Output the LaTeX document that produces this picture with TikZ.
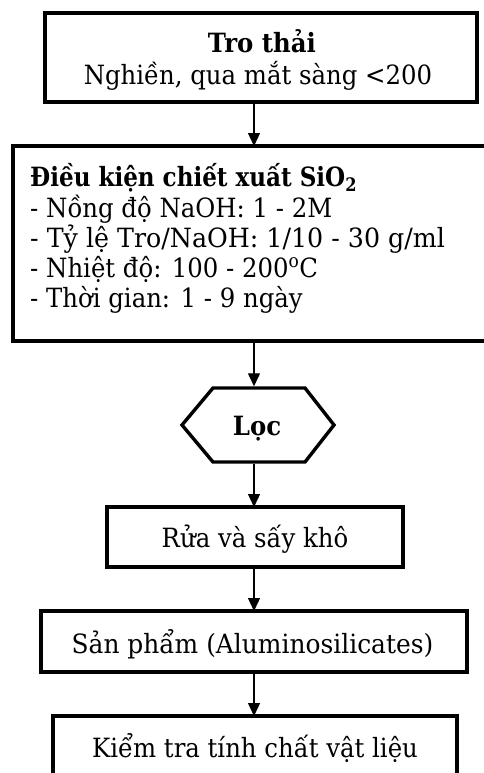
\documentclass[tikz,border=0pt]{standalone}
\usepackage{fontspec}
\setmainfont{DejaVu Serif}[FakeStretch=0.92]
\usetikzlibrary{arrows.meta}
\begin{document}
\begin{tikzpicture}[x=1pt,y=-1pt,
  box/.style={draw, line width=3.4pt, inner sep=0pt, outer sep=0pt},
  arr/.style={-{Triangle[length=13pt,width=12pt]}, line width=1.3pt},
  txt/.style={font=\fontsize{26.5}{32}\selectfont, inner sep=0pt, anchor=base},
  ltxt/.style={txt, anchor=base west}]
\useasboundingbox (0,0) rectangle (484,773);
\clip (0,0) rectangle (484,773);
\fill[white] (0,0) rectangle (484,773);
% boxes
\node[box, minimum width=432pt, minimum height=89pt] (b1) at (261,57.5) {};
\node[box, minimum width=490pt, minimum height=195pt] (b2) at (258,243.5) {};
\draw[line width=3.4pt, line join=miter] (182,425) -- (213,388) -- (305,388) -- (334,425) -- (305,462) -- (213,462) -- cycle;
\node[inner sep=0pt, minimum width=92pt, minimum height=77pt] (hx) at (258,425) {};
\node[box, minimum width=296pt, minimum height=60pt] (b3) at (255,537) {};
\node[box, minimum width=426pt, minimum height=61pt] (b4) at (254,641.5) {};
\node[box, minimum width=404pt, minimum height=100pt] (b5) at (255,766) {};
% texts
\node[txt] (t1a) at (262,53) {\textbf{Tro thải}};
\node[txt] (t1b) at (258,85) {Nghiền, qua mắt sàng <200};
\node[ltxt] (t2a) at (30,186) {\textbf{\addfontfeature{FakeStretch=0.87}Điều kiện chiết xuất SiO\textsubscript{2}}};
\node[ltxt] (t2b) at (30,217) {- Nồng độ NaOH: 1 - 2M};
\node[ltxt] (t2c) at (30,247) {\addfontfeature{FakeStretch=0.955}- Tỷ lệ Tro/NaOH: 1/10 - 30 g/ml};
\node[ltxt] (t2d) at (30,277) {- Nhiệt độ: 100 - 200\textsuperscript{o}C};
\node[ltxt] (t2e) at (30,307) {- Thời gian: 1 - 9 ngày};
\node[txt] (t3) at (257,435) {\textbf{Lọc}};
\node[txt] (t4) at (255,547) {Rửa và sấy khô};
\node[txt] (t5) at (252.5,653) {\addfontfeature{FakeStretch=0.94}Sản phẩm (Aluminosilicates)};
\node[txt] (t6) at (255,757) {Kiểm tra tính chất vật liệu};
% arrows
\coordinate (ax) at (254,0);
\draw[arr] (b1.south -| ax) -- (b2.north -| ax);
\draw[arr] (b2.south -| ax) -- (hx.north -| ax);
\draw[arr] (hx.south -| ax) -- (b3.north -| ax);
\draw[arr] (b3.south -| ax) -- (b4.north -| ax);
\draw[arr] (b4.south -| ax) -- (b5.north -| ax);
\end{tikzpicture}
\end{document}
